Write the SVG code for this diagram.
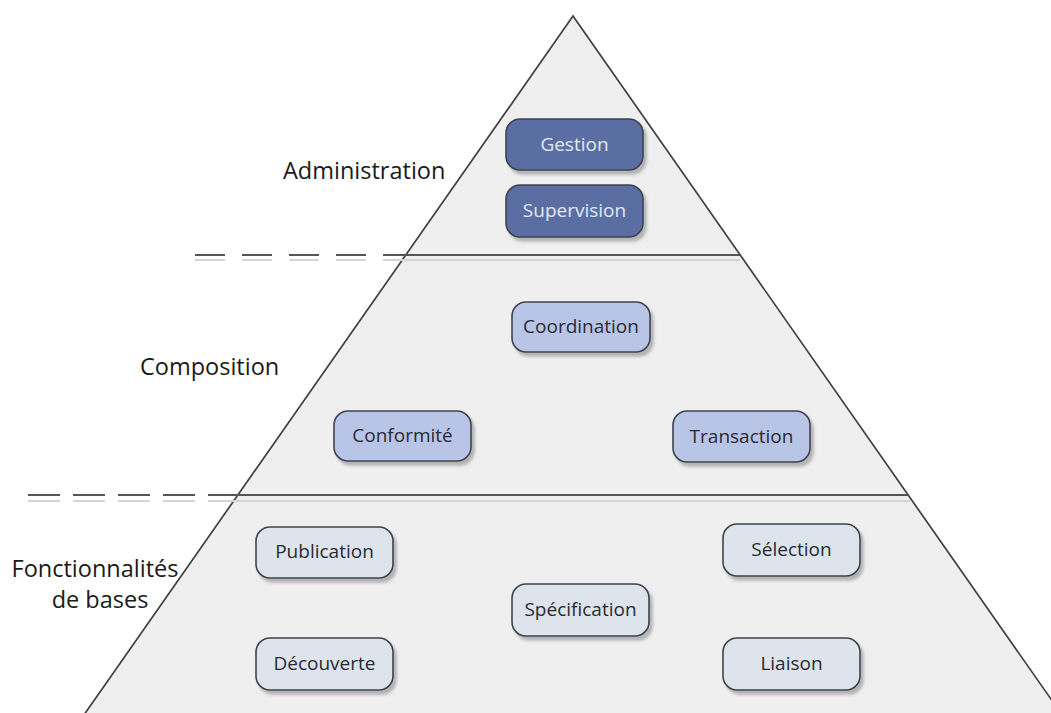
<svg xmlns="http://www.w3.org/2000/svg" width="1051" height="713" viewBox="0 0 1051 713">
<style>
.lbl{font-family:"Open Sans","Noto Sans",sans-serif;font-size:23.5px;fill:#1a1a1a}
.bt{font-family:"Open Sans","Noto Sans",sans-serif;font-size:19px;text-anchor:middle}
.b rect{stroke:#3f434e;stroke-width:1.6;filter:url(#sh)}
.dark rect{fill:#5a6ea3}
.dark text{fill:#e2e8f3}
.mid rect{fill:#b9c5e6}
.mid text{fill:#2a2a32}
.pale rect{fill:#dde4ec}
.pale text{fill:#2a2a32}
.sep{stroke:#555;stroke-width:2}
.sepl{stroke:#d4d4d4;stroke-width:2}
</style>
<defs>
<filter id="sh" x="-10%" y="-10%" width="130%" height="140%">
<feDropShadow dx="3" dy="4" stdDeviation="1.5" flood-color="#000" flood-opacity="0.25"/>
</filter>
</defs>
<rect width="1051" height="713" fill="#fff"/>
<g id="pyramid">
<polygon points="573,16 1067,722 79,722" fill="#efefef" stroke="none"/>
<polyline points="79,722 573,16 1067,722" fill="none" stroke="#404040" stroke-width="1.7"/>
</g>
<g id="separators">
<line class="sepl" x1="195" y1="260" x2="383" y2="260" stroke-dasharray="30 17"/>
<line class="sepl" x1="383" y1="260" x2="740" y2="260"/>
<line class="sep" x1="195" y1="255" x2="383" y2="255" stroke-dasharray="30 17"/>
<line class="sep" x1="383" y1="255" x2="740" y2="255"/>
<line class="sepl" x1="28" y1="501" x2="213" y2="501" stroke-dasharray="32 13"/>
<line class="sepl" x1="213" y1="501" x2="910" y2="501"/>
<line class="sep" x1="28" y1="495" x2="213" y2="495" stroke-dasharray="32 13"/>
<line class="sep" x1="213" y1="495" x2="908" y2="495"/>
</g>
<g id="labels">
<text class="lbl" x="283" y="179">Administration</text>
<text class="lbl" x="140" y="375">Composition</text>
<text class="lbl" x="95" y="577" text-anchor="middle">Fonctionnalités</text>
<text class="lbl" x="100" y="608" text-anchor="middle">de bases</text>
</g>
<g id="gestion" class="b dark"><rect x="506" y="119" width="137" height="51" rx="14"/><text class="bt" x="574.5" y="151">Gestion</text></g>
<g id="supervision" class="b dark"><rect x="506" y="185" width="137" height="52" rx="14"/><text class="bt" x="574.5" y="217">Supervision</text></g>
<g id="coordination" class="b mid"><rect x="512" y="302" width="138" height="50" rx="14"/><text class="bt" x="581" y="333">Coordination</text></g>
<g id="conformite" class="b mid"><rect x="334" y="411" width="137" height="50" rx="14"/><text class="bt" x="402.5" y="442">Conformité</text></g>
<g id="transaction" class="b mid"><rect x="673" y="411" width="137" height="51" rx="14"/><text class="bt" x="741.5" y="443">Transaction</text></g>
<g id="publication" class="b pale"><rect x="256" y="527" width="137" height="51" rx="14"/><text class="bt" x="324.5" y="558">Publication</text></g>
<g id="selection" class="b pale"><rect x="723" y="524" width="137" height="52" rx="14"/><text class="bt" x="791.5" y="556">Sélection</text></g>
<g id="specification" class="b pale"><rect x="512" y="584" width="137" height="52" rx="14"/><text class="bt" x="580.5" y="616">Spécification</text></g>
<g id="decouverte" class="b pale"><rect x="256" y="638" width="137" height="52" rx="14"/><text class="bt" x="324.5" y="670">Découverte</text></g>
<g id="liaison" class="b pale"><rect x="723" y="638" width="137" height="52" rx="14"/><text class="bt" x="791.5" y="670">Liaison</text></g>
</svg>
